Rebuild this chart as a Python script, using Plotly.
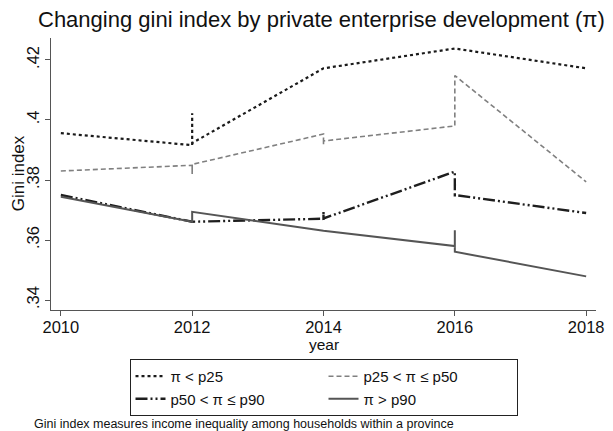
import plotly.graph_objects as go

# ---- data ----
years_g1 = [2010, 2012, 2012, 2012, 2014, 2016, 2018]
gini_g1 = [0.3956, 0.3916, 0.4022, 0.3923, 0.4172, 0.4238, 0.4172]

years_g2 = [2010, 2012, 2012, 2012, 2014, 2014, 2014, 2016, 2016, 2018]
gini_g2 = [0.3830, 0.3849, 0.3820, 0.3852, 0.3953, 0.3917, 0.3930, 0.3980, 0.4148, 0.3794]

years_g3 = [2010, 2012, 2014, 2014, 2014, 2016, 2016, 2016, 2018]
gini_g3 = [0.3750, 0.3661, 0.3671, 0.3694, 0.3672, 0.3828, 0.3742, 0.3750, 0.3690]

years_g4 = [2010, 2012, 2012, 2014, 2016, 2016, 2016, 2018]
gini_g4 = [0.3744, 0.3661, 0.3694, 0.3631, 0.3580, 0.3633, 0.3561, 0.3479]

names = ["π < p25", "p25 < π ≤ p50", "p50 < π ≤ p90", "π > p90"]
x_ticks = [2010, 2012, 2014, 2016, 2018]
y_ticks = [0.34, 0.36, 0.38, 0.40, 0.42]
y_tick_labels = [".34", ".36", ".38", ".4", ".42"]

FONT = "Liberation Sans, Arial, sans-serif"

fig = go.Figure()
fig.add_trace(go.Scatter(x=years_g1, y=gini_g1, mode="lines", name=names[0],
                         line=dict(color="#1a1a1a", width=2.2, dash="dot")))
fig.add_trace(go.Scatter(x=years_g2, y=gini_g2, mode="lines", name=names[1],
                         line=dict(color="#808080", width=1.6, dash="5px,3px")))
fig.add_trace(go.Scatter(x=years_g3, y=gini_g3, mode="lines", name=names[2],
                         line=dict(color="#1e1e1e", width=2.4,
                                   dash="12px,3px,2px,3px,2px,3px")))
fig.add_trace(go.Scatter(x=years_g4, y=gini_g4, mode="lines", name=names[3],
                         line=dict(color="#555555", width=2)))

axis_common = dict(showgrid=False, zeroline=False, showline=True,
                   linecolor="#555555", linewidth=1, ticks="outside",
                   ticklen=5, tickcolor="#555555", mirror=False,
                   tickfont=dict(family=FONT, size=16.5, color="#111"))

fig.update_xaxes(range=[2009.85, 2018.15], tickvals=x_ticks,
                 ticktext=[str(v) for v in x_ticks], ticklabelstandoff=-3,
                 **axis_common)
fig.update_yaxes(range=[0.3367, 0.4273], tickvals=y_ticks,
                 ticktext=y_tick_labels, tickangle=-90, ticklabelstandoff=-1,
                 **axis_common)

fig.update_layout(
    width=613, height=431,
    margin=dict(l=51, r=9, t=38, b=121),
    paper_bgcolor="white", plot_bgcolor="white",
    font=dict(family=FONT, size=15, color="#111"),
    title=dict(text="Changing gini index by private enterprise development (π)",
               x=38 / 613, xanchor="left", xref="container",
               y=1 - 19 / 431, yanchor="middle", yref="container",
               font=dict(family=FONT, size=22, color="#111")),
    legend=dict(orientation="h", x=0.5, xanchor="center", y=-0.18,
                yanchor="top", bordercolor="#222", borderwidth=1,
                entrywidth=148, font=dict(family=FONT, size=15, color="#111"),
                tracegroupgap=0),
    showlegend=True,
    annotations=[
        dict(text="year", xref="paper", yref="paper", x=0.5, y=-0.127,
             xanchor="center", yanchor="middle", showarrow=False,
             font=dict(family=FONT, size=15.5, color="#111")),
        dict(text="Gini index", xref="paper", yref="paper", x=-0.058, y=0.504,
             xanchor="center", yanchor="middle", textangle=-90, showarrow=False,
             font=dict(family=FONT, size=17, color="#111")),
        dict(text="Gini index measures income inequality among households within a province",
             xref="paper", yref="paper", x=-0.035, y=-0.418,
             xanchor="left", yanchor="middle", showarrow=False,
             font=dict(family=FONT, size=12.5, color="#111")),
    ],
)

fig.write_html("out.html")
